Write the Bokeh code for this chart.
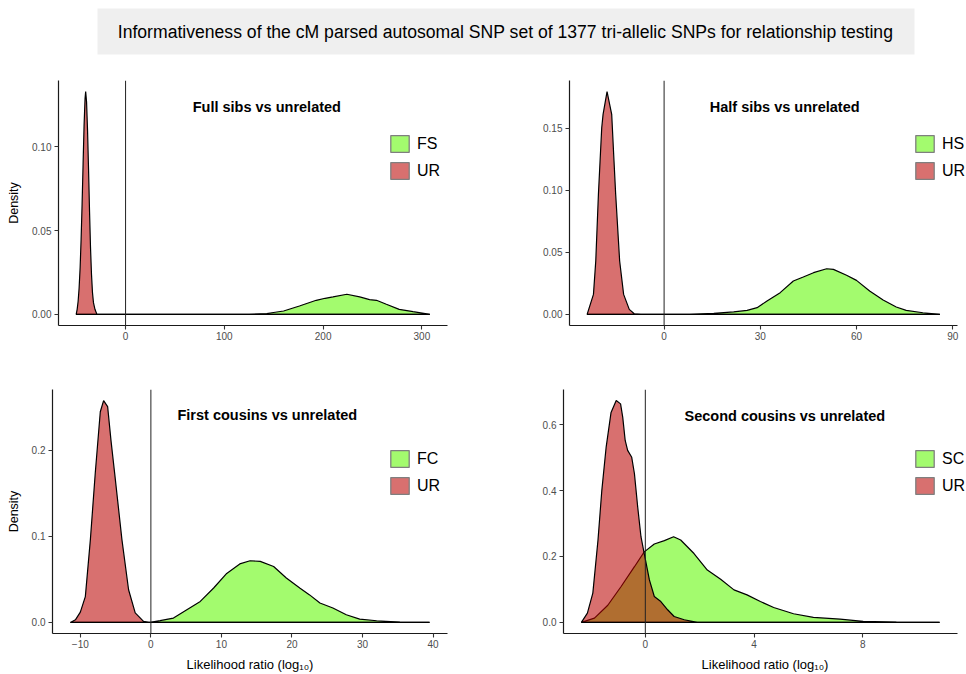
from bokeh.plotting import figure
from bokeh.layouts import column, row
from bokeh.models import (Range1d, FixedTicker, NumeralTickFormatter, Span, Label,
                          Legend, LegendItem, BoxAnnotation)
from bokeh.embed import file_html
from bokeh.resources import INLINE

FONT = "Liberation Sans"
NAN = float("nan")

main_title = "Informativeness of the cM parsed autosomal SNP set of 1377 tri-allelic SNPs for relationship testing"
panel_titles = ["Full sibs vs unrelated", "Half sibs vs unrelated",
                "First cousins vs unrelated", "Second cousins vs unrelated"]
related_labels = ["FS", "HS", "FC", "SC"]
unrelated_label = "UR"
x_label = "Likelihood ratio (log\u2081\u2080)"
y_label = "Density"

# Panel 1: full sibs
fs_x = [-50, 125, 143, 160, 176, 193, 202, 210, 224, 237, 247, 254, 264, 277, 291, 308]
fs_d = [0, 0, 0.0005, 0.002, 0.005, 0.0084, 0.0096, 0.0104, 0.012, 0.0104, 0.0088, 0.0084, 0.006, 0.003, 0.0016, 0]
ur1_x = [-50, -49, -48, -47, -46, -45, -44, -43, -42, -41, -40.4, -39.5, -38.5, -37.5, -36.5, -35.5,
         -34.5, -33.5, -32.5, -31, -29, 308]
ur1_d = [0, 0.003, 0.008, 0.016, 0.028, 0.045, 0.066, 0.090, 0.113, 0.129, 0.133, 0.127, 0.110, 0.087,
         0.062, 0.040, 0.024, 0.013, 0.007, 0.003, 0, 0]

# Panel 2: half sibs
hs_x = [-24, 8, 15.5, 21.7, 25.9, 29, 32.1, 36.2, 40.3, 43.4, 46.6, 50.7, 52.8, 56.9, 60, 64.1, 68.3,
        72.4, 75.5, 80.7, 86]
hs_d = [0, 0, 0.0008, 0.002, 0.0032, 0.0054, 0.0108, 0.0175, 0.0269, 0.0301, 0.0336, 0.0368, 0.0363,
        0.0315, 0.0274, 0.0188, 0.0116, 0.0059, 0.0032, 0.0013, 0]
ur2_x = [-24, -22.03, -21.31, -20.48, -19.45, -19.03, -17.79, -16.34, -15.62, -15.1, -13.86, -12.62,
         -10.86, -9.31, -7.24, 86]
ur2_d = [0, 0.0161, 0.043, 0.0968, 0.1505, 0.1613, 0.1796, 0.1613, 0.1237, 0.0968, 0.043, 0.0161,
         0.004, 0.0005, 0, 0]

# Panel 3: first cousins
fc_x = [-11.4, -0.1, 1.3, 3.2, 5.1, 7.0, 8.9, 10.75, 12.6, 14.06, 15.5, 17.4, 19.2, 21.1, 22.5, 23.96,
        25.8, 27.7, 29.6, 32.0, 35.3, 39.5]
fc_d = [0, 0, 0.002, 0.005, 0.0147, 0.0244, 0.04, 0.057, 0.068, 0.0717, 0.071, 0.065, 0.0516, 0.04,
        0.032, 0.0225, 0.0167, 0.0089, 0.0039, 0.0019, 0.0004, 0]
ur3_x = [-11.4, -10.7, -10.0, -9.29, -8.58, -7.88, -7.17, -6.70, -6.13, -5.66, -5.14, -4.10, -3.16,
         -2.22, -1.04, -0.3, 39.5]
ur3_d = [0, 0.003, 0.012, 0.030, 0.096, 0.174, 0.245, 0.258, 0.251, 0.212, 0.174, 0.096, 0.038, 0.011,
         0.0012, 0, 0]

# Panel 4: second cousins
sc_x = [-2.35, -1.87, -1.38, -0.89, -0.40, -0.04, 0.33, 0.70, 1.04, 1.30, 1.79, 2.28, 2.77, 3.26, 3.74,
        4.23, 4.72, 5.45, 6.18, 7.16, 8.01, 9.23, 10.82]
sc_d = [0, 0.013, 0.052, 0.109, 0.169, 0.214, 0.238, 0.248, 0.26, 0.25, 0.209, 0.159, 0.131, 0.0987,
        0.0836, 0.0634, 0.0453, 0.0262, 0.0151, 0.01, 0.003, 0.001, 0]
ur4_x = [-2.35, -2.13, -1.93, -1.74, -1.60, -1.44, -1.26, -1.07, -0.91, -0.83, -0.74, -0.65, -0.50,
         -0.40, -0.28, -0.16, -0.04, 0.15, 0.33, 0.57, 0.82, 1.06, 1.43, 1.91, 10.82]
ur4_d = [0, 0.028, 0.089, 0.25, 0.40, 0.532, 0.637, 0.673, 0.663, 0.622, 0.552, 0.522, 0.501, 0.451,
         0.35, 0.26, 0.209, 0.129, 0.0785, 0.0634, 0.0383, 0.018, 0.008, 0, 0]

x_ticks = [[0, 100, 200, 300], [0, 30, 60, 90], [-10, 0, 10, 20, 30, 40], [0, 4, 8]]
y_ticks = [[0, 0.05, 0.10], [0, 0.05, 0.10, 0.15], [0, 0.1, 0.2], [0, 0.2, 0.4, 0.6]]
y_formats = ["0.00", "0.00", "0.0", "0.0"]

GREEN = "#a3fb6e"
RED = "#bb0401"
RED_ALPHA = 0.57


def expand(lo, hi, f=0.05):
    s = hi - lo
    return lo - f * s, hi + f * s


def make_panel(width, height, bl, br, extra, bt, bb, gx, gd, rx, rd, glabel, title, title_pos,
               xt, yt, yfmt, show_ylabel, show_xlabel, leg_loc):
    # br: right border of the axis end; extra: pixels of plotting area kept beyond the axis end
    allx = gx + rx
    x0, x1 = expand(min(allx), max(allx))
    y0, y1 = expand(0, max(gd + rd))
    axis_w = width - bl - br
    x1_frame = x1 + (x1 - x0) * extra / axis_w
    p = figure(width=width, height=height, output_backend="svg", toolbar_location=None,
               x_range=Range1d(x0, x1_frame), y_range=Range1d(y0, y1),
               min_border_left=bl, min_border_right=br - extra, min_border_top=bt,
               min_border_bottom=bb)
    p.outline_line_color = None
    p.grid.visible = False
    p.background_fill_color = "white"
    p.border_fill_color = "white"

    p.patch(gx, gd, fill_color=GREEN, fill_alpha=1.0, line_color="black", line_width=1.2)
    p.patch(rx, rd, fill_color=RED, fill_alpha=RED_ALPHA, line_color="black", line_width=1.2)
    p.add_layout(Span(location=0, dimension="height", line_color="#222222", line_width=1))

    for ax in (p.xaxis[0], p.yaxis[0]):
        ax.axis_line_color = "#1a1a1a"
        ax.axis_line_width = 1.2
        ax.major_tick_line_color = "#333333"
        ax.major_tick_line_width = 1.1
        ax.major_tick_out = 4
        ax.major_tick_in = 0
        ax.minor_tick_line_color = None
        ax.major_label_text_font = FONT
        ax.major_label_text_font_size = "10px"
        ax.major_label_text_color = "#4d4d4d"
        ax.axis_label_text_font = FONT
        ax.axis_label_text_font_style = "normal"
        ax.axis_label_text_color = "black"
    p.xaxis.bounds = (x0, x1)
    p.xaxis.ticker = FixedTicker(ticks=xt, minor_ticks=[])
    p.yaxis.ticker = FixedTicker(ticks=yt, minor_ticks=[])
    p.yaxis.formatter = NumeralTickFormatter(format=yfmt)
    p.xaxis.major_label_standoff = 2
    p.yaxis.major_label_standoff = 3
    if show_ylabel:
        p.yaxis.axis_label = y_label
        p.yaxis.axis_label_text_font_size = "12.5px"
        p.yaxis.axis_label_standoff = 8
    if show_xlabel:
        p.xaxis.axis_label = x_label
        p.xaxis.axis_label_text_font_size = "13px"
        p.xaxis.axis_label_standoff = 6

    p.add_layout(Label(x=title_pos[0], y=title_pos[1], text=title, text_align="center",
                       text_baseline="middle", text_font=FONT, text_font_style="bold",
                       text_font_size="14.5px", text_color="black"))

    g_dummy = p.quad(left=[NAN], right=[NAN], top=[NAN], bottom=[NAN], fill_color=GREEN,
                     fill_alpha=1.0, line_color="#7f7f7f", line_width=1.3)
    r_dummy = p.quad(left=[NAN], right=[NAN], top=[NAN], bottom=[NAN], fill_color=RED,
                     fill_alpha=RED_ALPHA, line_color="#7f7f7f", line_width=1.3)
    leg = Legend(items=[LegendItem(label=glabel, renderers=[g_dummy]),
                        LegendItem(label=unrelated_label, renderers=[r_dummy])],
                 location=leg_loc, orientation="vertical", glyph_width=23, glyph_height=21,
                 label_height=21, spacing=6, label_standoff=6, padding=0, margin=0,
                 border_line_color=None, background_fill_alpha=0.0,
                 label_text_font=FONT, label_text_font_size="16px", label_text_color="black")
    p.add_layout(leg)
    return p


header = figure(width=966, height=60, output_backend="svg", toolbar_location=None,
                x_range=Range1d(0, 966), y_range=Range1d(0, 60), x_axis_type=None, y_axis_type=None,
                min_border=0)
header.outline_line_color = None
header.grid.visible = False
header.add_layout(BoxAnnotation(left=97, right=914, bottom=6, top=52, fill_color="#efefef",
                                fill_alpha=1.0, line_color=None))
header.add_layout(Label(x=505, y=29, text=main_title, text_align="center", text_baseline="middle",
                        text_font=FONT, text_font_size="17.6px", text_color="black"))

p1 = make_panel(483, 295, 58, 36, 0, 20, 30, fs_x, fs_d, ur1_x, ur1_d, related_labels[0], panel_titles[0],
                (143, 0.124), x_ticks[0], y_ticks[0], y_formats[0], True, False, (330, 144))
p2 = make_panel(483, 295, 86, 9, 9, 20, 30, hs_x, hs_d, ur2_x, ur2_d, related_labels[1], panel_titles[1],
                (37.6, 0.1674), x_ticks[1], y_ticks[1], y_formats[1], False, False, (344, 144))
p3 = make_panel(483, 319, 52, 36, 0, 34, 40, fc_x, fc_d, ur3_x, ur3_d, related_labels[2], panel_titles[2],
                (16.5, 0.2407), x_ticks[2], y_ticks[2], y_formats[2], True, True, (336, 137))
p4 = make_panel(483, 319, 80, 9, 9, 34, 40, sc_x, sc_d, ur4_x, ur4_d, related_labels[3], panel_titles[3],
                (5.13, 0.625), x_ticks[3], y_ticks[3], y_formats[3], False, True, (350, 137))

layout = column(header, row(p1, p2, spacing=0), row(p3, p4, spacing=0), spacing=0)
open("out.html", "w").write(file_html(layout, INLINE))
